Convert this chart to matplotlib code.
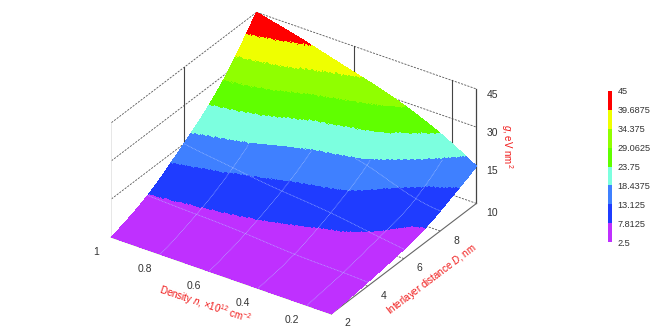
import numpy as np
import matplotlib
matplotlib.use("Agg")
import matplotlib.pyplot as plt
import matplotlib.tri as mtri
from matplotlib.colors import ListedColormap, BoundaryNorm
from matplotlib.cm import ScalarMappable

plt.rcParams['font.family'] = ['Liberation Sans', 'DejaVu Sans']
plt.rcParams['mathtext.fontset'] = 'custom'
plt.rcParams['mathtext.rm'] = 'Liberation Sans'
plt.rcParams['mathtext.it'] = 'Liberation Sans:italic'
plt.rcParams['mathtext.default'] = 'regular'

# ---- data ----
density = [1.0, 0.8, 0.6, 0.4, 0.2, 0.1]
distance = [2, 4, 6, 8, 10]
g_n100 = [2.5, 7.7, 16.7, 27.9, 45.0]
g_n080 = [2.5, 7.0, 14.1, 24.9, 40.5]
g_n060 = [2.5, 6.2, 11.8, 20.4, 35.3]
g_n040 = [2.5, 4.9, 10.0, 17.4, 29.7]
g_n020 = [2.5, 4.4, 7.3, 11.4, 21.5]
g_n010 = [2.5, 4.0, 6.0, 10.0, 16.3]
levels = [2.5, 7.8125, 13.125, 18.4375, 23.75, 29.0625, 34.375, 39.6875, 45]
level_labels = ['2.5', '7.8125', '13.125', '18.4375', '23.75', '29.0625', '34.375', '39.6875', '45']
band_colors = ['#BF30FF', '#1F3CFF', '#3F80FF', '#7CFFDF', '#60FF00', '#90FF00', '#EFFF00', '#FF0000']
n_ticks = [1, 0.8, 0.6, 0.4, 0.2]
n_tick_labels = ['1', '0.8', '0.6', '0.4', '0.2']
d_ticks = [2, 4, 6, 8]
d_tick_labels = ['2', '4', '6', '8']
z_ticks = [2.5, 16.667, 30.833, 45]
z_tick_labels = ['10', '15', '30', '45']

W, H = 653, 335
fig = plt.figure(figsize=(W / 100, H / 100), dpi=100)
S = 382.6
ax = fig.add_axes([97.5 / W, -24.5 / H, S / W, S / H], projection='3d', computed_zorder=False)
ax.set_proj_type('ortho')
ax.view_init(elev=31, azim=-55.9)
ax.set_box_aspect((269.2, 262.2, 135.3))
ax.set_xlim(1, 0.1, view_margin=0)
ax.set_ylim(2, 10, view_margin=0)
ax.set_zlim(2.5, 45, view_margin=0)
ax.set_axis_off()
ax.patch.set_alpha(0)

nmin, nmax, dmin, dmax, zmin, zmax = 0.1, 1, 2, 10, 2.5, 45
GRID = dict(color='#555555', lw=0.6, ls=(0, (2.5, 1.5)), zorder=1)
SOLID = dict(color='#444444', lw=0.8, zorder=1)

# walls: horizontal grid lines
for z in z_ticks[1:]:
    ax.plot([nmax, nmax], [dmin, dmax], [z, z], **GRID)
    ax.plot([nmax, nmin], [dmax, dmax], [z, z], **GRID)
# floor grid
for d in d_ticks[1:]:
    ax.plot([nmin, nmax], [d, d], [zmin, zmin], **GRID)
ax.plot([nmin, nmax], [dmax, dmax], [zmin, zmin], **GRID)
# wall uprights
ax.plot([nmax, nmax], [6, 6], [zmin, zmax], **SOLID)
ax.plot([0.2, 0.2], [dmax, dmax], [zmin, zmax], **SOLID)
ax.plot([0.6, 0.6], [dmax, dmax], [zmin, zmax], **SOLID)
ax.plot([nmax, nmax], [dmin, dmin], [zmin, zmax], color='#dddddd', lw=0.5, zorder=1)
# box edges
ax.plot([nmin, nmin], [dmax, dmax], [zmin, zmax], color='#444444', lw=0.9, zorder=1)
ax.plot([nmax, nmin], [dmin, dmin], [zmin, zmin], color='#888888', lw=1.0, zorder=1)
ax.plot([nmin, nmin], [dmin, dmax], [zmin, zmin], color='#666666', lw=0.8, zorder=1)

# surface
values = np.array([g_n100, g_n080, g_n060, g_n040, g_n020, g_n010])
NN, DD = np.meshgrid(density, distance, indexing='ij')
tri = mtri.Triangulation(NN.ravel(), DD.ravel() / 10.0)
refiner = mtri.UniformTriRefiner(tri)
interp = mtri.CubicTriInterpolator(tri, values.ravel(), kind='min_E')
fine, fz = refiner.refine_field(values.ravel(), triinterpolator=interp, subdiv=5)
fz = np.clip(fz, 2.5, 45)
cmap = ListedColormap(band_colors)
norm = BoundaryNorm(levels, 8)
ax.plot_trisurf(fine.x, fine.y * 10.0, fine.triangles, fz, cmap=cmap, norm=norm,
                linewidth=0, antialiased=False, shade=False, zorder=2)

# mesh lines on the surface, only visible in the low bands
LINE = dict(color='#B4CCFF', lw=0.5, ls=(0, (1.2, 1.0)), zorder=3, alpha=0.85)
for nv in n_ticks[1:]:
    dv = np.linspace(2, 10, 120)
    zz = np.ma.filled(interp(np.full_like(dv, nv), dv / 10.0), np.nan)
    zz = np.where(zz < levels[3], zz, np.nan)
    ax.plot(np.full_like(dv, nv), dv, zz, **LINE)
for dv0 in d_ticks[1:]:
    nv = np.linspace(0.1, 1, 120)
    zz = np.ma.filled(interp(nv, np.full_like(nv, dv0 / 10.0)), np.nan)
    zz = np.where(zz < levels[3], zz, np.nan)
    ax.plot(nv, np.full_like(nv, dv0), zz, **LINE)

# tick labels (drawn in data space, offset from the edges)
TK = dict(color='#333333', fontsize=7.5, ha='center', va='center', zorder=5)
for v, lab in zip(n_ticks, n_tick_labels):
    ax.text(v, 1.15, zmin - 1.2, lab, **TK)
for v, lab in zip(d_ticks, d_tick_labels):
    ax.text(0.035, v, zmin - 1.5, lab, **TK)
ax.text(0.035, 10, zmin - 1.5, '10', **TK)
for v, lab in zip(z_ticks[1:], z_tick_labels[1:]):
    ax.text(0.035, 10, v, lab, **TK)

# axis titles
RED = dict(color='#F01818', fontsize=7, ha='center', va='center', rotation_mode='anchor')
fig.text(205 / W, 1 - 305 / H, r'Density $\mathit{n}$, $\times$10$^{12}$ cm$^{-2}$', rotation=-18.5, **RED)
fig.text(432 / W, 1 - 279 / H, r'Interlayer distance $\mathit{D}$, nm', rotation=37, **RED)
fig.text(507 / W, 1 - 146 / H, r'$\mathit{g}$, eV nm$^{2}$', rotation=-90, **RED)

# colour legend
cax = fig.add_axes([607.5 / W, 1 - 242 / H, 4.5 / W, 151 / H])
cb = fig.colorbar(ScalarMappable(norm=norm, cmap=cmap), cax=cax, spacing='uniform', ticks=levels)
cb.set_ticklabels(level_labels)
cb.outline.set_visible(False)
cax.tick_params(length=0, pad=4, labelsize=6.6, labelcolor='#333333')

fig.savefig('out.png', dpi=100)
